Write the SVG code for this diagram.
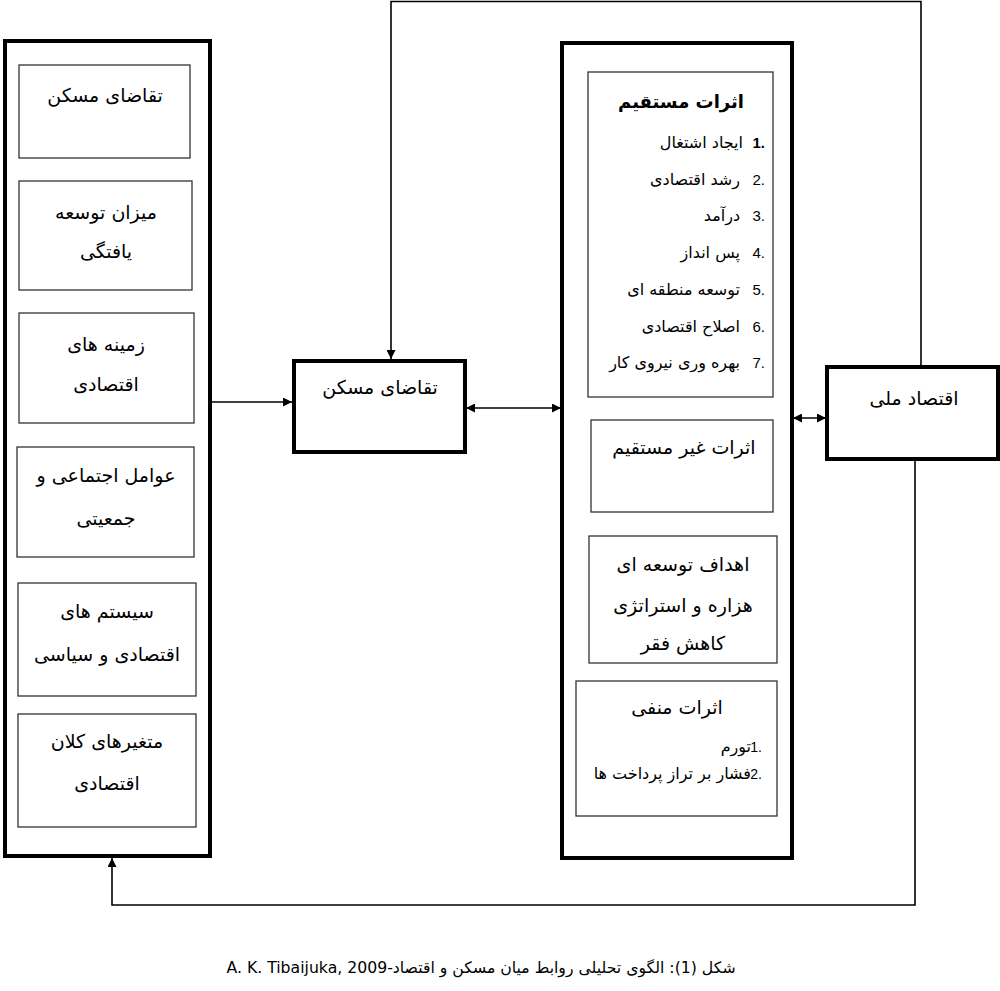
<svg xmlns="http://www.w3.org/2000/svg" width="1000" height="991" viewBox="0 0 1000 991">
<style>
.bg{fill:#ffffff}
.thick{fill:#ffffff;stroke:#000;stroke-width:4}
.thin{fill:#ffffff;stroke:#333;stroke-width:1.3}
.t{font-family:"DejaVu Sans",sans-serif;font-size:19px;fill:#000;text-anchor:middle}
.tb{font-family:"DejaVu Sans",sans-serif;font-size:18px;font-weight:bold;fill:#000;text-anchor:middle}
.li{font-family:"DejaVu Sans",sans-serif;font-size:16px;fill:#000;text-anchor:end}
.num{font-family:"Liberation Sans",sans-serif;font-size:15px;fill:#000;text-anchor:end}
.nums{font-family:"Liberation Sans",sans-serif;font-size:14px;fill:#000;text-anchor:end}
.sm{font-family:"DejaVu Sans",sans-serif;font-size:16px;fill:#000;text-anchor:end}
.cap{font-family:"DejaVu Sans",sans-serif;font-size:15.7px;fill:#000;text-anchor:middle}
.c{fill:none;stroke:#000;stroke-width:1.6}
</style>
<defs>
<marker id="ah" viewBox="0 0 10 10" refX="10" refY="5" markerWidth="10" markerHeight="9" markerUnits="userSpaceOnUse" orient="auto-start-reverse">
<path d="M0,0 L10,5 L0,10 z" fill="#000"/>
</marker>
</defs>
<rect class="bg" x="0" y="0" width="1000" height="991"/>

<g id="connectors">
<path class="c" d="M210,402 H292" marker-end="url(#ah)"/>
<path class="c" d="M466,408 H561" marker-start="url(#ah)" marker-end="url(#ah)"/>
<path class="c" d="M793,418 H826" marker-start="url(#ah)" marker-end="url(#ah)"/>
<path class="c" d="M921,366 V1.5 H391 V359" marker-end="url(#ah)"/>
<path class="c" d="M915,460 V905 H112 V858" marker-end="url(#ah)"/>
</g>

<g id="left-group">
<rect class="thick" x="5" y="41" width="205" height="815"/>
</g>
<g id="l1">
<rect class="thin" x="19" y="65" width="171" height="93"/>
<text class="t" x="105" y="102">تقاضای مسکن</text>
</g>
<g id="l2">
<rect class="thin" x="19" y="181" width="173" height="109"/>
<text class="t" x="106" y="219">میزان توسعه</text>
<text class="t" x="106" y="258">یافتگی</text>
</g>
<g id="l3">
<rect class="thin" x="19" y="313" width="175" height="110"/>
<text class="t" x="106" y="351">زمینه های</text>
<text class="t" x="106" y="391">اقتصادی</text>
</g>
<g id="l4">
<rect class="thin" x="17" y="447" width="177" height="110"/>
<text class="t" x="106" y="482">عوامل اجتماعی و</text>
<text class="t" x="106" y="525">جمعیتی</text>
</g>
<g id="l5">
<rect class="thin" x="18" y="583" width="178" height="113"/>
<text class="t" x="107" y="618">سیستم های</text>
<text class="t" x="107" y="661">اقتصادی و سیاسی</text>
</g>
<g id="l6">
<rect class="thin" x="18" y="714" width="178" height="113"/>
<text class="t" x="107" y="748">متغیرهای کلان</text>
<text class="t" x="107" y="790">اقتصادی</text>
</g>

<g id="demand">
<rect class="thick" x="294" y="361" width="171" height="91"/>
<text class="t" x="380" y="394">تقاضای مسکن</text>
</g>

<g id="right-group">
<rect class="thick" x="562" y="43" width="230" height="815"/>
</g>
<g id="direct">
<rect class="thin" x="588" y="72" width="185" height="325"/>
<text class="tb" x="681" y="108">اثرات مستقیم</text>
<text class="num" x="765" y="148" font-weight="bold">1.</text>
<text class="li" x="743" y="148">ایجاد اشتغال</text>
<text class="num" x="765" y="185">2.</text>
<text class="li" x="740" y="185">رشد اقتصادی</text>
<text class="num" x="765" y="221">3.</text>
<text class="li" x="740" y="221">درآمد</text>
<text class="num" x="765" y="258">4.</text>
<text class="li" x="740" y="258">پس انداز</text>
<text class="num" x="765" y="295">5.</text>
<text class="li" x="740" y="295">توسعه منطقه ای</text>
<text class="num" x="765" y="332">6.</text>
<text class="li" x="740" y="332">اصلاح اقتصادی</text>
<text class="num" x="765" y="368">7.</text>
<text class="li" x="740" y="368">بهره وری نیروی کار</text>
</g>
<g id="indirect">
<rect class="thin" x="591" y="420" width="182" height="92"/>
<text class="t" x="684" y="454">اثرات غیر مستقیم</text>
</g>
<g id="mdg">
<rect class="thin" x="589" y="536" width="188" height="127"/>
<text class="t" x="683" y="571">اهداف توسعه ای</text>
<text class="t" x="683" y="612">هزاره و استراتژی</text>
<text class="t" x="683" y="650">کاهش فقر</text>
</g>
<g id="negative">
<rect class="thin" x="576" y="681" width="201" height="135"/>
<text class="t" x="677" y="714">اثرات منفی</text>
<text class="nums" x="762" y="752">1.</text>
<text class="sm" x="751" y="752">تورم</text>
<text class="nums" x="762" y="779">2.</text>
<text class="sm" x="751" y="779">فشار بر تراز پرداخت ها</text>
</g>

<g id="national">
<rect class="thick" x="827" y="367" width="171" height="92"/>
<text class="t" x="914" y="405">اقتصاد ملی</text>
</g>

<g id="caption">
<text class="cap" x="481" y="973" direction="rtl">شکل (1): الگوی تحلیلی روابط میان مسکن و اقتصاد-A. K. Tibaijuka, 2009</text>
</g>
</svg>
